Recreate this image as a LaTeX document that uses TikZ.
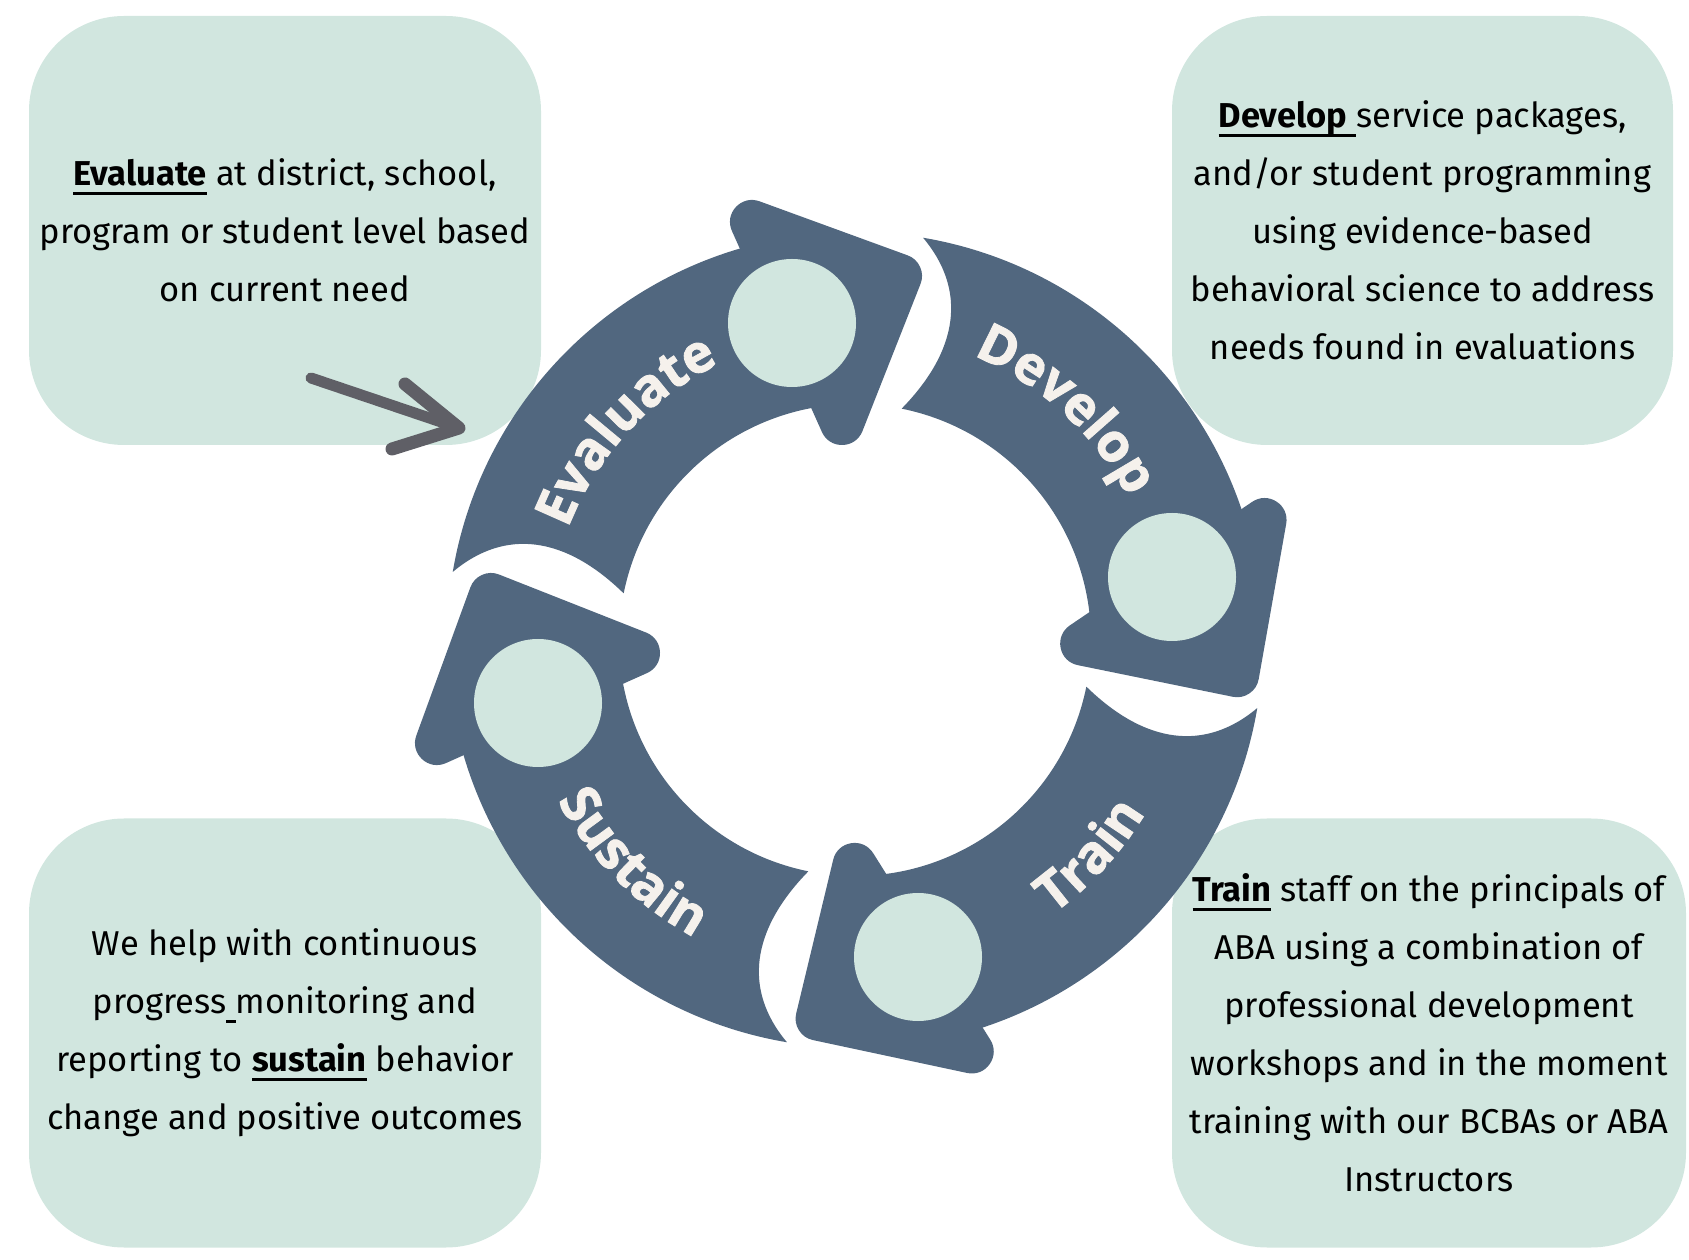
\documentclass[tikz,border=0pt]{standalone}
\usepackage{fontspec}
\setmainfont{Fira Sans}
\newfontfamily\ringfamily{Open Sans}[BoldFeatures={FakeBold=1.6}]
\usetikzlibrary{decorations.text}

\definecolor{mint}{HTML}{D1E6DF}
\definecolor{slate}{HTML}{51677F}
\definecolor{cream}{HTML}{F5F1EC}
\definecolor{pencil}{HTML}{5F5F66}

\newcommand\ulword[1]{\setbox0\hbox{#1}\rlap{\rule[-9pt]{\wd0}{3pt}}\box0\relax}
\newcommand\ringfont{\ringfamily\bfseries\fontsize{53}{53}\selectfont}

\begin{document}
\begin{tikzpicture}[
    x=1pt, y=1pt,
    panel/.style={rectangle, fill=mint, rounded corners=95pt, minimum height=429pt,
        align=center, inner sep=0pt, font=\fontsize{34.5}{58}\selectfont},
    band/.style={fill=slate},
    head/.style={fill=slate, draw=slate, line width=44pt, line join=round},
    dot/.style={circle, fill=mint, minimum size=128pt, inner sep=0pt},
    ringlabel/.style={decorate, decoration={text along path, text align=center,
        text color=cream, text={|\ringfont|#1}}},
    pencilline/.style={draw=pencil, line width=13pt, line cap=round, line join=round},
    pics/segment/.style={code={
      \fill[band] (170.4:408) arc[start angle=170.4, end angle=95, radius=408]
        -- (95:236) arc[start angle=95, end angle=168.6, radius=236]
        .. controls (-290,104) and (-350,112) .. cycle;
      \filldraw[head, rotate around={#1:(-63,317)}]
        (-103,418) -- (45,364) -- (-13,217) -- cycle;
      \node[dot] (-dot) at (-63,317) {};
    }}
]
\useasboundingbox (0,0) rectangle (1689,1259);

% text panels
\node[panel, minimum width=512pt] (evalbox) at (285,1028.5)
  {\ulword{\textbf{Evaluate}} at district, school,\\
   program or student level based\\
   on current need};
\node[panel, minimum width=501pt] (devbox) at (1422.5,1028.5)
  {\ulword{\textbf{Develop}\ }service packages,\\
   and/or student programming\\
   using evidence-based\\
   behavioral science to address\\
   needs found in evaluations};
\node[panel, minimum width=512pt] (sustbox) at (285,226)
  {We help with continuous\\
   progress\ulword{\ }monitoring and\\
   reporting to \ulword{\textbf{sustain}} behavior\\
   change and positive outcomes};
\node[panel, minimum width=514pt] (trainbox) at (1429,226)
  {\ulword{\textbf{Train}} staff on the principals of\\
   ABA using a combination of\\
   professional development\\
   workshops and in the moment\\
   training with our BCBAs or ABA\\
   Instructors};

% hand drawn arrow
\coordinate (tail) at (311,881);
\coordinate (tip) at (459,831);
\coordinate (barbtop) at (405,875);
\coordinate (barbbot) at (392,810);
\draw[pencilline, line width=11pt] (tail) -- (tip);
\draw[pencilline] (barbtop) -- (tip) -- (barbbot);

% the cycle
\coordinate (ring) at (855,619);
\pic (evaluate) at (ring) {segment=0};
\pic[rotate=-90] (develop) at (ring) {segment=10};
\pic[rotate=180] (train) at (ring) {segment=8};
\pic[rotate=90] (sustain) at (ring) {segment=0};

\begin{scope}[shift={(ring)}]
  \path[ringlabel=Evaluate] (170:308) arc[start angle=170, end angle=105, radius=308];
  \path[ringlabel=Develop] (80:308) arc[start angle=80, end angle=15, radius=308];
  \path[ringlabel=Train] (-75:338) arc[start angle=-75, end angle=-10, radius=338];
  \path[ringlabel=Sustain] (-167.5:338) arc[start angle=-167.5, end angle=-102.5, radius=338];
\end{scope}
\end{tikzpicture}
\end{document}
